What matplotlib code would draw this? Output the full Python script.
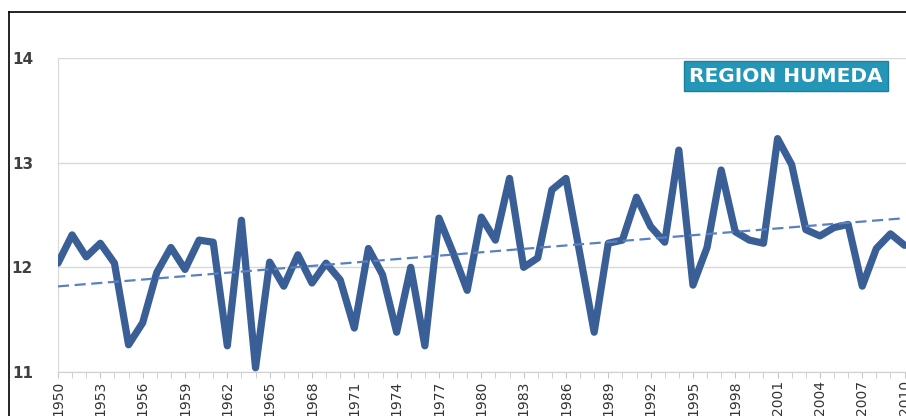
import numpy as np
import matplotlib
matplotlib.use("Agg")
import matplotlib.pyplot as plt
from matplotlib.lines import Line2D

# data
years = list(range(1950, 2011))
values = [
    12.04, 12.31, 12.10, 12.23, 12.04, 11.26, 11.47, 11.95, 12.19, 11.98,
    12.26, 12.24, 11.25, 12.45, 11.04, 12.05, 11.82, 12.12, 11.85, 12.04,
    11.88, 11.42, 12.18, 11.93, 11.38, 12.00, 11.25, 12.47, 12.14, 11.78,
    12.48, 12.26, 12.85, 12.00, 12.09, 12.74, 12.85, 12.12, 11.38, 12.23,
    12.26, 12.67, 12.39, 12.24, 13.12, 11.83, 12.19, 12.93, 12.34, 12.26,
    12.23, 13.23, 12.98, 12.36, 12.30, 12.38, 12.41, 11.82, 12.18, 12.32,
    12.21,
]
yticks = [11, 12, 13, 14]
label = "REGION HUMEDA"

x = np.array(years)
y = np.array(values)
slope, intercept = np.polyfit(x, y, 1)

fig = plt.figure(figsize=(9.06, 4.16), dpi=100)
ax = fig.add_axes([58 / 906, 1 - 372 / 416, 848 / 906, 314 / 416])

ax.plot(x, y, color="#3A5F96", lw=5.2, solid_joinstyle="round",
        solid_capstyle="round", zorder=3)
ax.plot(x, slope * x + intercept, color="#5A80C4", lw=1.6,
        ls=(0, (5, 2.5)), zorder=4)

ax.set_xlim(1950, 2010.1)
ax.set_ylim(11, 14)
ax.set_yticks(yticks)
ax.set_yticklabels([str(t) for t in yticks], fontsize=11, fontweight="bold",
                   color="#404040")
ax.set_xticks(years[::3])
ax.set_xticks(years, minor=True)
ax.set_xticklabels([str(t) for t in years[::3]], rotation=90,
                   fontsize=10, color="#333333",
                   family=["Liberation Sans Narrow", "DejaVu Sans"])
ax.tick_params(axis="y", length=0, pad=18)
ax.tick_params(axis="x", which="both", length=4, color="#c8c8c8", pad=2)
ax.grid(axis="y", color="#d9d9d9", lw=1)
for s in ["top", "right"]:
    ax.spines[s].set_visible(False)
ax.spines["left"].set_color("#d9d9d9")
ax.spines["bottom"].set_color("#d0d0d0")
ax.set_axisbelow(True)

fig.text(689 / 906, 1 - 76 / 416, label, fontsize=14.5, fontweight="bold",
         color="white", va="center", ha="left",
         bbox=dict(boxstyle="square,pad=0.25", fc="#2496B8", ec="#1C7F9C"))

# outer frame (left and top edges visible)
fig.add_artist(Line2D([9 / 906, 9 / 906], [0, 1 - 12 / 416],
                      transform=fig.transFigure, color="black", lw=1.2))
fig.add_artist(Line2D([9 / 906, 1], [1 - 12 / 416, 1 - 12 / 416],
                      transform=fig.transFigure, color="black", lw=1.2))

fig.savefig("out.png", dpi=100)
